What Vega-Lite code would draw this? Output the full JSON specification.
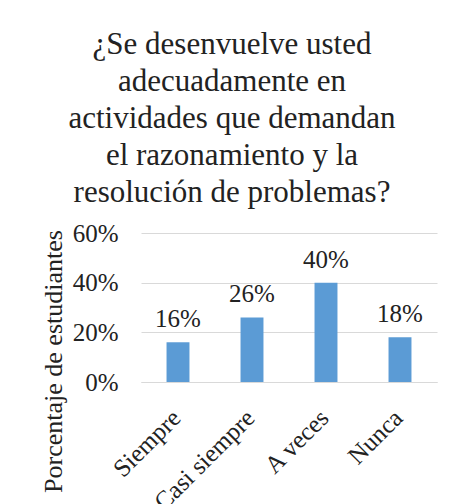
{
  "$schema": "https://vega.github.io/schema/vega-lite/v6.json",
  "autosize": "none",
  "padding": {"left": 141, "top": 233, "right": 14, "bottom": 122},
  "width": 296,
  "height": 149,
  "background": "white",
  "title": {
    "text": ["¿Se desenvuelve usted", "adecuadamente en", "actividades que demandan", "el razonamiento y la", "resolución de problemas?"],
    "font": "Liberation Serif",
    "fontSize": 31,
    "fontWeight": "normal",
    "color": "#222222",
    "lineHeight": 37,
    "anchor": "middle",
    "dx": -57,
    "offset": 12
  },
  "data": {
    "values": [
      {"categoria": "Siempre", "porcentaje": 0.16},
      {"categoria": "Casi siempre", "porcentaje": 0.26},
      {"categoria": "A veces", "porcentaje": 0.40},
      {"categoria": "Nunca", "porcentaje": 0.18}
    ]
  },
  "encoding": {
    "x": {
      "field": "categoria",
      "type": "nominal",
      "sort": null,
      "scale": {"paddingInner": 0.69, "paddingOuter": 0.345},
      "axis": {
        "title": null,
        "labelAngle": -45,
        "labelFont": "Liberation Serif",
        "labelFontSize": 25,
        "labelColor": "#222222",
        "ticks": false,
        "domainColor": "#D9D9D9",
        "labelPadding": 23,
        "labelOffset": -10
      }
    },
    "y": {
      "field": "porcentaje",
      "type": "quantitative",
      "scale": {"domain": [0, 0.6]},
      "axis": {
        "format": ".0%",
        "values": [0, 0.2, 0.4, 0.6],
        "title": "Porcentaje de estudiantes",
        "titleFont": "Liberation Serif",
        "titleFontSize": 26,
        "titleFontWeight": "normal",
        "titleColor": "#222222",
        "titleAngle": -90,
        "titleAlign": "center",
        "titleBaseline": "alphabetic",
        "titleX": -80,
        "titleY": 128,
        "labelFont": "Liberation Serif",
        "labelFontSize": 25,
        "labelColor": "#222222",
        "labelPadding": 23,
        "ticks": false,
        "domain": false,
        "gridColor": "#D9D9D9"
      }
    }
  },
  "layer": [
    {"mark": {"type": "bar", "color": "#5B9BD5"}},
    {
      "mark": {"type": "text", "baseline": "alphabetic", "dy": -15, "font": "Liberation Serif", "fontSize": 25, "color": "#222222"},
      "encoding": {"text": {"field": "porcentaje", "type": "quantitative", "format": ".0%"}}
    }
  ],
  "config": {"view": {"stroke": null}}
}
